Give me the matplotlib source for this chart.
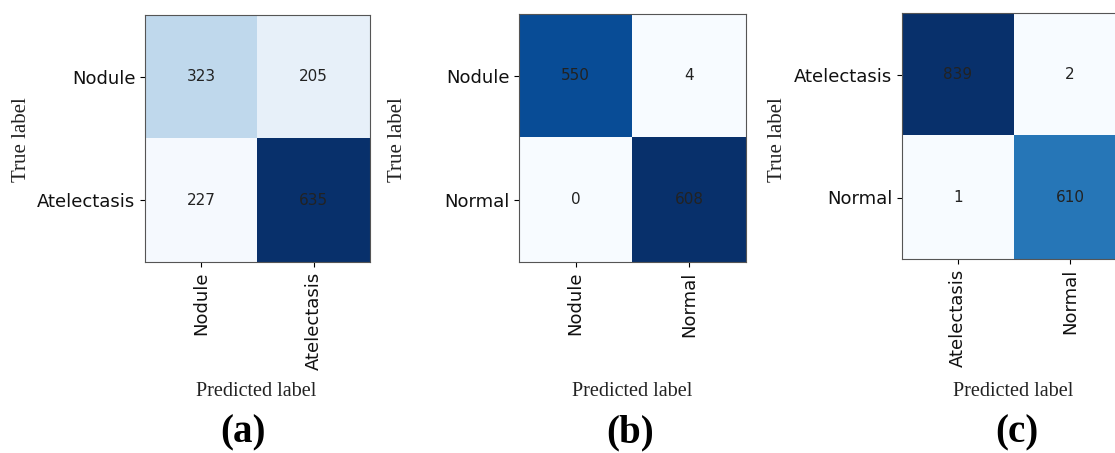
import matplotlib
matplotlib.use("Agg")
import matplotlib.pyplot as plt
import numpy as np

# class names for each panel
labels_a = ["Nodule", "Atelectasis"]
labels_b = ["Nodule", "Normal"]
labels_c = ["Atelectasis", "Normal"]

# counts shown in the cells
counts_a = [[323, 205], [227, 635]]
counts_b = [[550, 4], [0, 608]]
counts_c = [[839, 2], [1, 610]]

# cell shade (0..1 on the Blues map)
shade_a = [[0.27, 0.08], [0.01, 1.0]]
shade_b = [[0.89, 0.0], [0.0, 1.0]]
shade_c = [[1.0, 0.0], [0.0, 0.73]]

panel_names = ["(a)", "(b)", "(c)"]

W, H = 1115, 453
fig = plt.figure(figsize=(W / 100, H / 100), dpi=100)

serif = "Liberation Serif"

def draw_cm(left_px, top_px, w_px, h_px, counts, shade, names):
    ax = fig.add_axes([left_px / W, 1 - (top_px + h_px) / H, w_px / W, h_px / H])
    ax.imshow(np.array(shade), cmap="Blues", vmin=0, vmax=1, aspect="auto",
              interpolation="nearest")
    for i in range(2):
        for j in range(2):
            ax.text(j, i, str(counts[i][j]), ha="center", va="center",
                    fontsize=11, color="#222222")
    ax.set_xticks(range(2))
    ax.set_yticks(range(2))
    ax.set_xticklabels(names, rotation=90, fontsize=13, color="#111111")
    ax.set_yticklabels(names, fontsize=13, color="#111111")
    for s in ax.spines.values():
        s.set_color("#555555")
    return ax

draw_cm(145, 15, 225, 247, counts_a, shade_a, labels_a)
draw_cm(519, 14, 227, 248, counts_b, shade_b, labels_b)
draw_cm(902, 13, 224, 246, counts_c, shade_c, labels_c)

# axis titles and panel letters placed in figure pixels
true_x = [22, 397, 778]
pred_x = [256, 632, 1013]
name_x = [243, 630, 1017]

for k in range(3):
    fig.text(true_x[k] / W, 1 - 140 / H, "True label", rotation=90,
             ha="center", va="center", fontsize=15, family=serif, color="#222222")
    fig.text(pred_x[k] / W, 1 - 392 / H, "Predicted label",
             ha="center", va="center", fontsize=14.5, family=serif, color="#222222")
    fig.text(name_x[k] / W, 1 - 433 / H, panel_names[k],
             ha="center", va="center", fontsize=28, family=serif,
             fontweight="bold", color="black")

fig.savefig("out.png", dpi=100)
